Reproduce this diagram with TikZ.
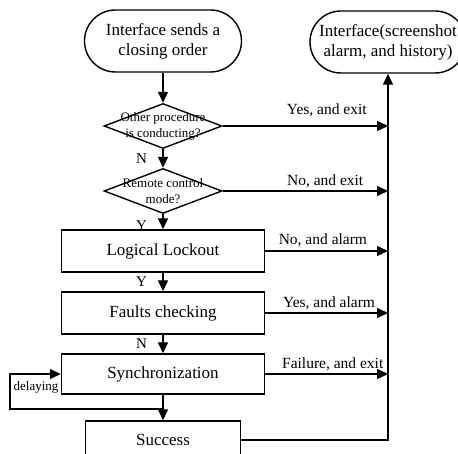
\documentclass[tikz,border=0pt]{standalone}
\usepackage{fontspec}
\setmainfont{Liberation Serif}
\usetikzlibrary{shapes.geometric,arrows.meta}

\begin{document}
\begin{tikzpicture}[x=1pt,y=1pt,
  every node/.style={font=\fontsize{17}{20}\selectfont},
  term/.style={draw,line width=1.4pt,rounded corners=31pt,minimum width=157pt,
    minimum height=62pt,align=center,inner sep=0pt},
  decision/.style={draw,diamond,line width=1.4pt,minimum width=118pt,
    minimum height=45pt,inner sep=0pt},
  dectext/.style={font=\fontsize{13}{16}\selectfont,align=center},
  box/.style={draw,line width=1.4pt,minimum width=203pt,minimum height=42pt},
  arr/.style={line width=1.4pt,-{Triangle[length=11pt,width=10pt]}},
  lbl/.style={font=\fontsize{15.5}{16}\selectfont,above,inner sep=2pt},
  yn/.style={font=\fontsize{15}{16}\selectfont,left=12pt}]
\useasboundingbox (0,0) rectangle (458,-454);

\node[term] (start) at (163,-41) {Interface sends a\\closing order};
\node[term,minimum width=156pt] (output) at (388,-42) {Interface(screenshot\\alarm, and history)};

\node[decision] (other) at (163,-126) {};
\node[dectext] (othertxt) at (other) {Other procedure\\is conducting?};
\node[decision] (remote) at (163,-191) {};
\node[dectext] (remotetxt) at (remote) {Remote control\\mode?};

\node[box] (lockout) at (163,-251) {Logical Lockout};
\node[box] (faults) at (163,-313) {Faults checking};
\node[box,minimum height=40pt] (sync) at (163,-374) {Synchronization};
\node[box,minimum width=155pt,minimum height=38pt] (success) at (163,-440) {Success};
\node[font=\fontsize{13}{14}\selectfont,inner sep=0pt] (delay) at (36,-387) {delaying};

\coordinate (junction) at (163,-409);
\coordinate (loop) at (10,-409);

% main line
\draw[arr] (start) -- (other);
\draw[arr] (other) -- node[yn]{N} (remote);
\draw[arr] (remote) -- node[yn,pos=0.75]{Y} (lockout);
\draw[arr] (lockout) -- node[yn]{Y} (faults);
\draw[arr] (faults) -- node[yn]{N} (sync);
\draw[arr] (sync) -- (success);
\draw[arr] (junction) -- (loop) |- (sync.west);

% exits
\draw[arr] (other) -- node[lbl,pos=0.63,yshift=6pt]{Yes, and exit} (other -| output);
\draw[arr] (remote) -- node[lbl,pos=0.62]{No, and exit} (remote -| output);
\draw[arr] (lockout) -- node[lbl,pos=0.47,yshift=1pt]{No, and alarm} (lockout -| output);
\draw[arr] (faults) -- node[lbl,pos=0.52]{Yes, and alarm} (faults -| output);
\draw[arr] (sync) -- node[lbl,pos=0.55]{Failure, and exit} (sync -| output);
\draw[arr] (success) -| (output);
\end{tikzpicture}
\end{document}
